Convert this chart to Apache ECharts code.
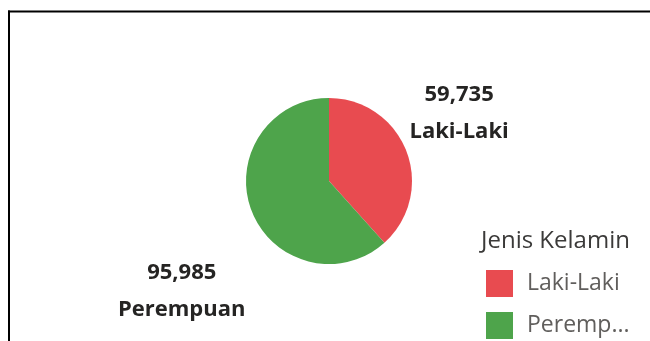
<!DOCTYPE html>
<html>
<head>
<meta charset="utf-8">
<script src="https://cdn.jsdelivr.net/npm/echarts@6/dist/echarts.min.js"></script>
<style>
  html, body { margin: 0; padding: 0; background: #ffffff; }
  #chart { width: 650px; height: 341px; }
</style>
</head>
<body>
<div id="chart"></div>
<script>
// Jumlah penduduk menurut jenis kelamin
const categories = ['Laki-Laki', 'Perempuan'];
const values = [59735, 95985];
const colors = ['#E84B50', '#4EA44B'];
const legendTitle = 'Jenis Kelamin';

// label shifts relative to the default outside anchor
const labelShift = [[-2, -38], [-1, 81]];

const chart = echarts.init(document.getElementById('chart'), null, { renderer: 'canvas' });

const fmt = n => n.toLocaleString('en-US');

chart.setOption({
  animation: false,
  backgroundColor: '#ffffff',
  title: {
    text: legendTitle,
    left: 481,
    top: 229,
    padding: 0,
    textStyle: { fontFamily: 'Open Sans', fontSize: 24, fontWeight: 'normal', color: '#3b3a39' }
  },
  legend: {
    orient: 'vertical',
    left: 486,
    top: 270,
    padding: 0,
    itemWidth: 27,
    itemHeight: 27,
    itemGap: 15,
    icon: 'rect',
    selectedMode: false,
    textStyle: {
      fontFamily: 'Open Sans',
      fontSize: 23,
      color: '#605e5c',
      padding: [0, 0, 0, 9],
      width: 114,
      overflow: 'truncate',
      ellipsis: '...'
    },
    data: categories
  },
  graphic: [
    { type: 'line', shape: { x1: 8, y1: 11.5, x2: 650, y2: 11.5 }, style: { stroke: '#000', lineWidth: 2 } },
    { type: 'line', shape: { x1: 9, y1: 10.5, x2: 9, y2: 341 }, style: { stroke: '#000', lineWidth: 2 } }
  ],
  series: [{
    type: 'pie',
    center: [329, 181],
    radius: 83,
    startAngle: 90,
    clockwise: true,
    avoidLabelOverlap: false,
    itemStyle: { borderWidth: 0 },
    label: {
      show: true,
      position: 'outside',
      fontFamily: 'Open Sans',
      fontSize: 22,
      fontWeight: 'bold',
      color: '#252423',
      lineHeight: 37,
      formatter: p => fmt(p.value) + '\n' + p.name
    },
    labelLine: { show: false, length: 0, length2: 0 },
    labelLayout: p => {
      const r = p.labelRect;
      const s = labelShift[p.dataIndex];
      return {
        x: r.x + r.width / 2 + s[0],
        y: r.y + r.height / 2 + s[1],
        align: 'center',
        verticalAlign: 'middle'
      };
    },
    emphasis: { disabled: true },
    data: categories.map((c, i) => ({ name: c, value: values[i], itemStyle: { color: colors[i] } }))
  }]
});
</script>
</body>
</html>
